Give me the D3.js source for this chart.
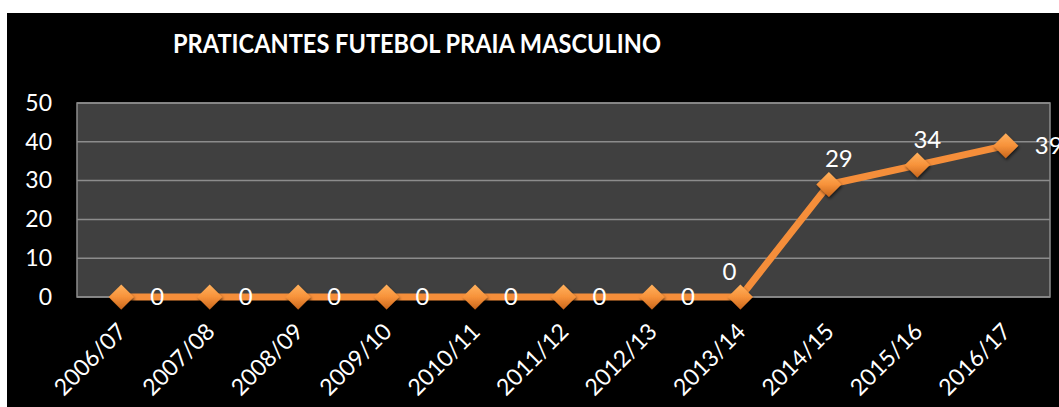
<!DOCTYPE html>
<html>
<head>
<meta charset="utf-8">
<script src="https://cdn.jsdelivr.net/npm/d3@7"></script>
<style>
  body { margin: 0; background: #fff; }
  svg { display: block; font-family: Lato, 'Open Sans', sans-serif; }
</style>
</head>
<body>
<svg id="chart" width="1059" height="407"></svg>
<script>
// data
const seasons = ['2006/07', '2007/08', '2008/09', '2009/10', '2010/11', '2011/12',
  '2012/13', '2013/14', '2014/15', '2015/16', '2016/17'];
const players = [0, 0, 0, 0, 0, 0, 0, 0, 29, 34, 39];
const yTicks = [0, 10, 20, 30, 40, 50];
const title = 'PRATICANTES FUTEBOL PRAIA MASCULINO';

const w = 1059, h = 407;
const margins = { left: 77, right: 9, top: 103, bottom: 110 };

const svg = d3.select('#chart');

// black chart background
svg.append('rect')
  .attr('x', 7).attr('y', 13)
  .attr('width', w - 7).attr('height', h - 13)
  .style('fill', '#000');

const defs = svg.append('defs');
const grad = defs.append('linearGradient')
  .attr('id', 'diamondGrad')
  .attr('x1', 0).attr('y1', 0).attr('x2', 0).attr('y2', 1);
grad.append('stop').attr('offset', '0%').attr('stop-color', '#ffb15e');
grad.append('stop').attr('offset', '50%').attr('stop-color', '#f7923a');
grad.append('stop').attr('offset', '100%').attr('stop-color', '#c9661c');

const shadow = defs.append('filter').attr('id', 'shadow')
  .attr('x', '-50%').attr('y', '-50%').attr('width', '200%').attr('height', '200%');
shadow.append('feDropShadow')
  .attr('dx', 1).attr('dy', 2).attr('stdDeviation', 1.5)
  .attr('flood-color', '#000').attr('flood-opacity', 0.6);

const xScale = d3.scalePoint()
  .domain(seasons)
  .range([margins.left, w - margins.right])
  .padding(0.5);

const yScale = d3.scaleLinear()
  .domain([0, 50])
  .range([h - margins.bottom, margins.top]);

// plot area
svg.append('rect')
  .attr('x', margins.left)
  .attr('y', margins.top)
  .attr('width', w - margins.right - margins.left)
  .attr('height', h - margins.bottom - margins.top)
  .style('fill', '#404040')
  .style('stroke', '#8c8c8c')
  .style('stroke-width', 1.5);

// gridlines
svg.append('g')
  .selectAll('line')
  .data(yTicks)
  .join('line')
  .attr('x1', margins.left)
  .attr('x2', w - margins.right)
  .attr('y1', d => yScale(d))
  .attr('y2', d => yScale(d))
  .style('stroke', '#8c8c8c')
  .style('stroke-width', 1.5);

// y axis
const yAxis = svg.append('g')
  .attr('transform', `translate(${margins.left}, 0)`)
  .call(d3.axisLeft(yScale).tickValues(yTicks).tickSize(0).tickPadding(25));
yAxis.select('.domain').remove();
yAxis.selectAll('text')
  .style('fill', '#fff')
  .style('font-size', '23px')
  .style('font-family', 'Lato, sans-serif');

// x axis labels
const xAxis = svg.append('g')
  .attr('transform', `translate(0, ${h - margins.bottom})`)
  .call(d3.axisBottom(xScale).tickSize(0).tickPadding(0));
xAxis.select('.domain').remove();
xAxis.selectAll('text')
  .attr('text-anchor', 'end')
  .attr('dy', 0)
  .attr('transform', 'translate(6, 36) rotate(-45)')
  .style('fill', '#fff')
  .style('font-size', '23px')
  .style('font-family', 'Lato, sans-serif');

// title
svg.append('text')
  .attr('x', 417)
  .attr('y', 53)
  .attr('text-anchor', 'middle')
  .attr('textLength', 488)
  .attr('lengthAdjust', 'spacingAndGlyphs')
  .style('fill', '#fff')
  .style('font-size', '27px')
  .style('font-weight', 'bold')
  .text(title);

// line
const line = d3.line()
  .x((d, i) => xScale(seasons[i]))
  .y(d => yScale(d));

svg.append('path')
  .datum(players)
  .attr('d', line)
  .style('fill', 'none')
  .style('stroke', '#f58e3a')
  .style('stroke-width', 7)
  .style('stroke-linejoin', 'round');

// diamond markers
const diamond = d3.symbol().type(d3.symbolDiamond2).size(400);
svg.append('g')
  .selectAll('path')
  .data(players)
  .join('path')
  .attr('d', diamond)
  .attr('transform', (d, i) => `translate(${xScale(seasons[i])}, ${yScale(d)})`)
  .style('fill', 'url(#diamondGrad)')
  .style('filter', 'url(#shadow)');

// data labels: to the right on flat segments and the last point, above otherwise
function above(i) {
  return i < players.length - 1 && players[i + 1] !== players[i];
}
svg.append('g')
  .selectAll('text')
  .data(players)
  .join('text')
  .attr('x', (d, i) => xScale(seasons[i]) + (above(i) ? (d === 0 ? -11 : 10) : 29))
  .attr('y', (d, i) => yScale(d) + (above(i) ? -17 : 0))
  .attr('dy', (d, i) => above(i) ? 0 : '0.35em')
  .attr('text-anchor', (d, i) => above(i) ? 'middle' : 'start')
  .style('fill', '#fff')
  .style('font-size', '24px')
  .text(d => d);
</script>
</body>
</html>
